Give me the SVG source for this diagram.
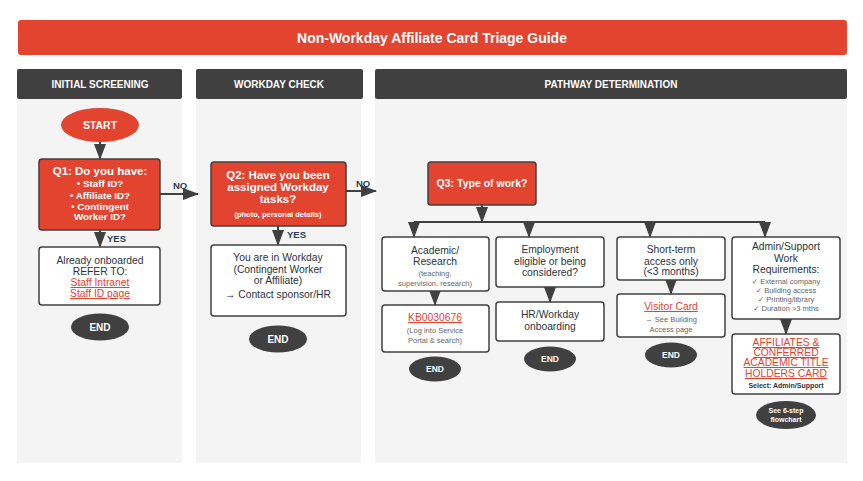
<svg xmlns="http://www.w3.org/2000/svg" width="863" height="481" viewBox="0 0 863 481">
<defs>
<marker id="ah" markerUnits="userSpaceOnUse" markerWidth="16" markerHeight="12" refX="15" refY="6" orient="auto">
<path d="M0,0 L16,6 L0,12 Z" fill="#404040"/>
</marker>
<style>
text{font-family:"Liberation Sans",Arial,sans-serif;text-anchor:middle}
.col{fill:#f4f4f4}
.hdr{fill:#404040}
.hdrt{fill:#fff;font-size:10px;font-weight:bold}
.red{fill:#e34430;stroke:#404040;stroke-width:1.5}
.wht{fill:#fff;stroke:#404040;stroke-width:1.5}
.endE{fill:#404040}
.wt{fill:#fff;font-weight:bold}
.dt{fill:#2b3340;font-size:10.3px}
.sm{fill:#666;font-size:7.5px}
.ck{font-family:"DejaVu Sans",sans-serif;fill:#666}
.lnk{fill:#e34430;font-size:10.3px;text-decoration:underline}
.cn{stroke:#404040;stroke-width:2;fill:none}
.lbl{fill:#2c3e50;font-size:9.5px;font-weight:bold;text-anchor:start}
</style>
</defs>
<rect x="18" y="20" width="829" height="35" rx="3" fill="#e34430"/>
<text x="432" y="43" class="wt" font-size="14">Non-Workday Affiliate Card Triage Guide</text>

<rect class="col" x="17" y="99" width="165" height="364"/>
<rect class="col" x="196" y="99" width="165" height="364"/>
<rect class="col" x="375" y="99" width="472" height="364"/>
<rect class="hdr" x="17" y="69" width="165" height="30" rx="2"/>
<rect class="hdr" x="196" y="69" width="167" height="30" rx="2"/>
<rect class="hdr" x="375" y="69" width="472" height="30" rx="2"/>
<text class="hdrt" x="100" y="88">INITIAL SCREENING</text>
<text class="hdrt" x="279" y="88">WORKDAY CHECK</text>
<text class="hdrt" x="611" y="88">PATHWAY DETERMINATION</text>

<g id="connectors">
<line class="cn" x1="100" y1="142" x2="100" y2="159" marker-end="url(#ah)"/>
<line class="cn" x1="160" y1="194" x2="198" y2="194" marker-end="url(#ah)"/>
<line class="cn" x1="100" y1="230" x2="100" y2="247" marker-end="url(#ah)"/>
<line class="cn" x1="346" y1="191" x2="376" y2="191" marker-end="url(#ah)"/>
<line class="cn" x1="278" y1="226" x2="278" y2="245" marker-end="url(#ah)"/>
<line class="cn" x1="482" y1="205" x2="482" y2="222" marker-end="url(#ah)"/>
<line class="cn" x1="414" y1="222" x2="765" y2="222"/>
<line class="cn" x1="414" y1="222" x2="414" y2="237" marker-end="url(#ah)"/>
<line class="cn" x1="529" y1="222" x2="529" y2="237" marker-end="url(#ah)"/>
<line class="cn" x1="650" y1="222" x2="650" y2="237" marker-end="url(#ah)"/>
<line class="cn" x1="765" y1="222" x2="765" y2="237" marker-end="url(#ah)"/>
<line class="cn" x1="435" y1="291" x2="435" y2="305" marker-end="url(#ah)"/>
<line class="cn" x1="550" y1="287" x2="550" y2="302" marker-end="url(#ah)"/>
<line class="cn" x1="671" y1="280" x2="671" y2="294" marker-end="url(#ah)"/>
<line class="cn" x1="786" y1="319" x2="786" y2="334" marker-end="url(#ah)"/>
<text class="lbl" x="173" y="189">NO</text>
<text class="lbl" x="107" y="242">YES</text>
<text class="lbl" x="356" y="187">NO</text>
<text class="lbl" x="287" y="238">YES</text>
</g>

<g id="start">
<ellipse cx="100" cy="125" rx="39" ry="17" fill="#e34430"/>
<text class="wt" x="100" y="129" font-size="10.5">START</text>
</g>
<g id="q1">
<rect class="red" x="39" y="159" width="121" height="71" rx="3"/>
<text class="wt" x="100" y="175" font-size="11.5">Q1: Do you have:</text>
<text class="wt" x="100" y="187" font-size="9.8">• Staff ID?</text>
<text class="wt" x="100" y="199" font-size="9.8">• Affiliate ID?</text>
<text class="wt" x="100" y="210" font-size="9.8">• Contingent</text>
<text class="wt" x="100" y="220" font-size="9.8">Worker ID?</text>
</g>
<g id="onboarded">
<rect class="wht" x="39" y="247" width="121" height="58" rx="3"/>
<text class="dt" x="100" y="264">Already onboarded</text>
<text class="dt" x="100" y="275">REFER TO:</text>
<text class="lnk" x="100" y="286">Staff Intranet</text>
<text class="lnk" x="100" y="297">Staff ID page</text>
</g>
<g id="end1">
<ellipse class="endE" cx="100" cy="327" rx="29" ry="13.5"/>
<text class="wt" x="100" y="331" font-size="10">END</text>
</g>
<g id="q2">
<rect class="red" x="211" y="162" width="135" height="64" rx="3"/>
<text class="wt" x="278" y="179" font-size="11.5">Q2: Have you been</text>
<text class="wt" x="278" y="191" font-size="11.5">assigned Workday</text>
<text class="wt" x="278" y="203" font-size="11.5">tasks?</text>
<text class="wt" x="278" y="217" font-size="7.5">(photo, personal details)</text>
</g>
<g id="inworkday">
<rect class="wht" x="211" y="245" width="135" height="71" rx="3"/>
<text class="dt" x="278" y="261">You are in Workday</text>
<text class="dt" x="278" y="273" fill="#555">(Contingent Worker</text>
<text class="dt" x="278" y="284" fill="#555">or Affiliate)</text>
<text class="dt" x="278" y="298">→ Contact sponsor/HR</text>
</g>
<g id="end2">
<ellipse class="endE" cx="278" cy="339" rx="29" ry="13.5"/>
<text class="wt" x="278" y="343" font-size="10">END</text>
</g>
<g id="q3">
<rect class="red" x="428" y="162" width="108" height="43" rx="3"/>
<text class="wt" x="482" y="187" font-size="10.5">Q3: Type of work?</text>
</g>
<g id="academic">
<rect class="wht" x="382" y="237" width="107" height="54" rx="3"/>
<text class="dt" x="435" y="254">Academic/</text>
<text class="dt" x="435" y="265">Research</text>
<text class="sm" x="435" y="276">(teaching,</text>
<text class="sm" x="435" y="286">supervision, research)</text>
</g>
<g id="kb">
<rect class="wht" x="382" y="305" width="107" height="47" rx="3"/>
<text class="lnk" x="435" y="321">KB0030676</text>
<text class="sm" x="435" y="333">(Log into Service</text>
<text class="sm" x="435" y="343">Portal &amp; search)</text>
</g>
<g id="end3">
<ellipse class="endE" cx="435" cy="369" rx="26" ry="12.5"/>
<text class="wt" x="435" y="372" font-size="8.5">END</text>
</g>
<g id="employment">
<rect class="wht" x="496" y="237" width="108" height="50" rx="3"/>
<text class="dt" x="550" y="253">Employment</text>
<text class="dt" x="550" y="265">eligible or being</text>
<text class="dt" x="550" y="276">considered?</text>
</g>
<g id="hr">
<rect class="wht" x="496" y="302" width="108" height="39" rx="3"/>
<text class="dt" x="550" y="318">HR/Workday</text>
<text class="dt" x="550" y="330">onboarding</text>
</g>
<g id="end4">
<ellipse class="endE" cx="550" cy="359" rx="26" ry="12.5"/>
<text class="wt" x="550" y="362" font-size="8.5">END</text>
</g>
<g id="shortterm">
<rect class="wht" x="617" y="237" width="108" height="43" rx="3"/>
<text class="dt" x="671" y="253">Short-term</text>
<text class="dt" x="671" y="265">access only</text>
<text class="dt" x="671" y="275">(&lt;3 months)</text>
</g>
<g id="visitor">
<rect class="wht" x="617" y="294" width="108" height="43" rx="3"/>
<text class="lnk" x="671" y="310">Visitor Card</text>
<text class="sm" x="671" y="322">→ See Building</text>
<text class="sm" x="671" y="332">Access page</text>
</g>
<g id="end5">
<ellipse class="endE" cx="671" cy="355" rx="26" ry="12.5"/>
<text class="wt" x="671" y="358" font-size="8.5">END</text>
</g>
<g id="admin">
<rect class="wht" x="732" y="237" width="108" height="82" rx="3"/>
<text class="dt" x="786" y="250">Admin/Support</text>
<text class="dt" x="786" y="262">Work</text>
<text class="dt" x="786" y="273">Requirements:</text>
<text class="sm" x="786" y="284"><tspan class="ck">✓</tspan> External company</text>
<text class="sm" x="786" y="293"><tspan class="ck">✓</tspan> Building access</text>
<text class="sm" x="786" y="302"><tspan class="ck">✓</tspan> Printing/library</text>
<text class="sm" x="786" y="311"><tspan class="ck">✓</tspan> Duration &gt;3 mths</text>
</g>
<g id="affiliates">
<rect class="wht" x="732" y="334" width="108" height="60" rx="3"/>
<text class="lnk" x="786" y="346">AFFILIATES &amp;</text>
<text class="lnk" x="786" y="356">CONFERRED</text>
<text class="lnk" x="786" y="366">ACADEMIC TITLE</text>
<text class="lnk" x="786" y="377">HOLDERS CARD</text>
<text x="786" y="388" font-size="7" font-weight="bold" fill="#2b3340">Select: Admin/Support</text>
</g>
<g id="sixstep">
<ellipse class="endE" cx="786" cy="415" rx="30" ry="14"/>
<text class="wt" x="786" y="413" font-size="7">See 6-step</text>
<text class="wt" x="786" y="422" font-size="7">flowchart</text>
</g>
</svg>
